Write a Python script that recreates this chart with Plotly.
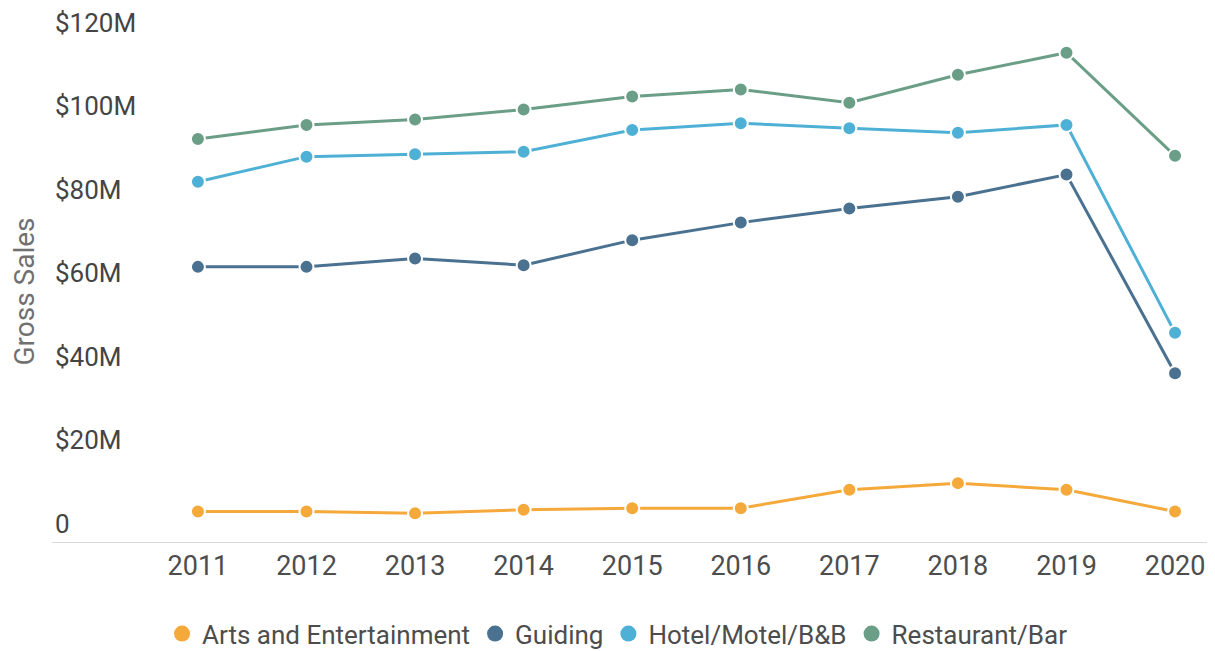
import plotly.graph_objects as go

# Gross sales by sector, values in $M
years = [2011, 2012, 2013, 2014, 2015, 2016, 2017, 2018, 2019, 2020]
arts = [7.3, 7.3, 6.9, 7.7, 8.1, 8.1, 12.5, 14.1, 12.5, 7.3]
guiding = [65.9, 65.9, 67.9, 66.3, 72.3, 76.5, 79.9, 82.7, 88.0, 40.4]
hotel = [86.3, 92.3, 92.9, 93.5, 98.7, 100.3, 99.1, 98.0, 99.9, 50.1]
restaurant = [96.5, 99.9, 101.2, 103.6, 106.7, 108.4, 105.2, 111.9, 117.2, 92.5]

y_ticks = [0, 20, 40, 60, 80, 100, 120]
y_tick_labels = ["0", "$20M", "$40M", "$60M", "$80M", "$100M", "$120M"]

series = [
    ("Arts and Entertainment", arts, "#f5a93a"),
    ("Guiding", guiding, "#4a7190"),
    ("Hotel/Motel/B&B", hotel, "#4fb0d6"),
    ("Restaurant/Bar", restaurant, "#6b9e86"),
]

fig = go.Figure()
for name, vals, color in series:
    fig.add_trace(go.Scatter(
        x=years, y=vals, name=name, mode="lines+markers", showlegend=False,
        line=dict(color=color, width=3),
        marker=dict(size=14, color=color, line=dict(color="white", width=2)),
    ))
# legend entries: circles only
for name, vals, color in series:
    fig.add_trace(go.Scatter(
        x=[None], y=[None], name=name, mode="markers",
        marker=dict(size=22, color=color),
    ))

# page body has an 8px margin, so the figure is 8px smaller than the window
fig.update_layout(
    width=1207, height=643,
    font=dict(family="Roboto, sans-serif", size=26, color="#4d4d4d"),
    paper_bgcolor="white", plot_bgcolor="white",
    margin=dict(l=44, r=0, t=33, b=109),
    showlegend=True,
    legend=dict(
        orientation="h", xref="container", yref="container",
        x=0.505, xanchor="center", y=0.027, yanchor="middle",
        font=dict(size=26, color="#4d4d4d"), itemsizing="trace",
    ),
)

fig.update_xaxes(
    range=[2009.656, 2020.368], tickvals=years, showgrid=False,
    showline=True, linecolor="#d9d9d9", linewidth=1,
    zeroline=False, ticks="", automargin=False,
    tickfont=dict(size=27),
)
fig.update_yaxes(
    range=[0, 120], tickvals=y_ticks, ticktext=y_tick_labels,
    ticklabelposition="inside top", ticklabeloverflow="allow",
    showgrid=False, zeroline=False,
    showline=False, ticks="", automargin=False,
    title=dict(text="Gross Sales", font=dict(size=28, color="#707070"), standoff=13),
)

fig.write_html("out.html")
